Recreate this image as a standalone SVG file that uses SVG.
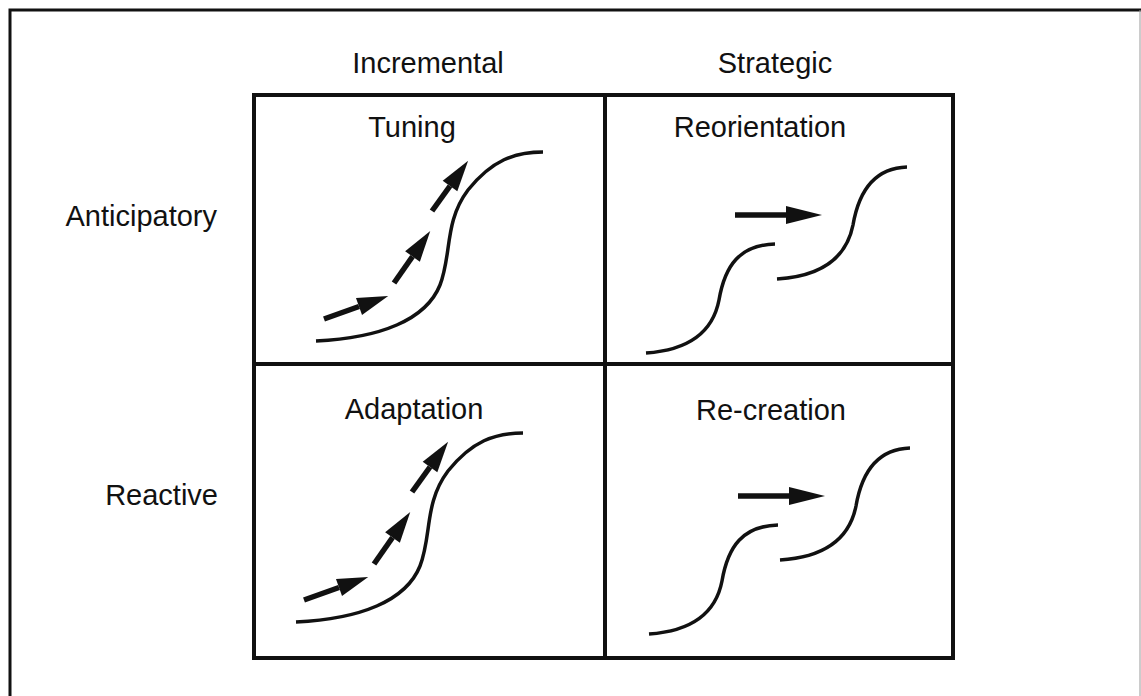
<svg xmlns="http://www.w3.org/2000/svg" width="1141" height="696" viewBox="0 0 1141 696">
  <style>
    .lbl { font-family: "Liberation Sans", Arial, Helvetica, sans-serif; font-size: 29px; fill: #111; }
    .mid { text-anchor: middle; }
    .end { text-anchor: end; }
    .frame { fill: none; stroke: #111; stroke-width: 4; }
    .curve { fill: none; stroke: #111; stroke-width: 3.5; stroke-linecap: butt; }
    .shaft { fill: none; stroke: #111; stroke-width: 5.5; }
    .slant { marker-end: url(#headS); }
    .flat { marker-end: url(#headL); }
  </style>
  <defs>
    <marker id="headS" markerUnits="userSpaceOnUse" viewBox="0 -9 31 18" refX="0" refY="0" markerWidth="31" markerHeight="18" orient="auto" overflow="visible">
      <path d="M0,-9 L31,0 L0,9 Z" fill="#111"/>
    </marker>
    <marker id="headL" markerUnits="userSpaceOnUse" viewBox="0 -9 36 18" refX="0" refY="0" markerWidth="36" markerHeight="18" orient="auto" overflow="visible">
      <path d="M0,-9 L36,0 L0,9 Z" fill="#111"/>
    </marker>
  </defs>

  <rect width="1141" height="696" fill="#fff"/>

  <!-- outer page border -->
  <g id="border">
    <path d="M10,696 V10 H1141" fill="none" stroke="#111" stroke-width="3"/>
    <line x1="1140" y1="10" x2="1140" y2="696" stroke="#999" stroke-width="1"/>
  </g>

  <!-- axis headings -->
  <g id="col-incremental"><text class="lbl mid" x="428" y="73">Incremental</text></g>
  <g id="col-strategic"><text class="lbl mid" x="775" y="73">Strategic</text></g>
  <g id="row-anticipatory"><text class="lbl end" x="217" y="226">Anticipatory</text></g>
  <g id="row-reactive"><text class="lbl end" x="218" y="505">Reactive</text></g>

  <!-- 2x2 matrix frame -->
  <g id="grid">
    <rect class="frame" x="254" y="95" width="699" height="563"/>
    <line class="frame" x1="605" y1="95" x2="605" y2="658"/>
    <line class="frame" x1="254" y1="364" x2="953" y2="364"/>
  </g>

  <!-- Tuning: incremental change riding one S-curve -->
  <g id="tuning">
    <text class="lbl mid" x="412" y="137">Tuning</text>
    <path class="curve" d="M316,341 C380,338 426,320 440,285 C452,254 444,222 468,190 C492,160 515,152 543,152"/>
  </g>
  <!-- Adaptation: same pattern, one row down -->
  <g id="adaptation">
    <text class="lbl mid" x="414" y="419">Adaptation</text>
    <path class="curve" transform="translate(-20,281)" d="M316,341 C380,338 426,320 440,285 C452,254 444,222 468,190 C492,160 515,152 543,152"/>
  </g>

  <!-- Reorientation: jump to a new S-curve -->
  <g id="reorientation">
    <text class="lbl mid" x="760" y="137">Reorientation</text>
    <path class="curve" d="M646,353 C690,350 713,331 719,300 C725,265 740,245 775,244"/>
    <path class="curve" d="M777,279 C825,276 847,255 853,225 C859,190 875,168 907,167"/>
  </g>
  <!-- Re-creation: same jump, one row down -->
  <g id="re-creation">
    <text class="lbl mid" x="771" y="420">Re-creation</text>
    <path class="curve" transform="translate(3,281)" d="M646,353 C690,350 713,331 719,300 C725,265 740,245 775,244"/>
    <path class="curve" transform="translate(3,281)" d="M777,279 C825,276 847,255 853,225 C859,190 875,168 907,167"/>
  </g>

  <!-- arrows -->
  <g id="connectors">
    <line class="shaft slant" x1="324" y1="319" x2="359" y2="306.5"/>
    <line class="shaft slant" x1="394" y1="283" x2="412.5" y2="256.5"/>
    <line class="shaft slant" x1="432" y1="211" x2="450" y2="186"/>

    <line class="shaft slant" x1="304" y1="600" x2="339" y2="587.5"/>
    <line class="shaft slant" x1="374" y1="564" x2="392.5" y2="537.5"/>
    <line class="shaft slant" x1="412" y1="492" x2="430" y2="467"/>

    <line class="shaft flat" x1="735" y1="215" x2="786" y2="215"/>
    <line class="shaft flat" x1="738" y1="496" x2="789" y2="496"/>
  </g>
</svg>
